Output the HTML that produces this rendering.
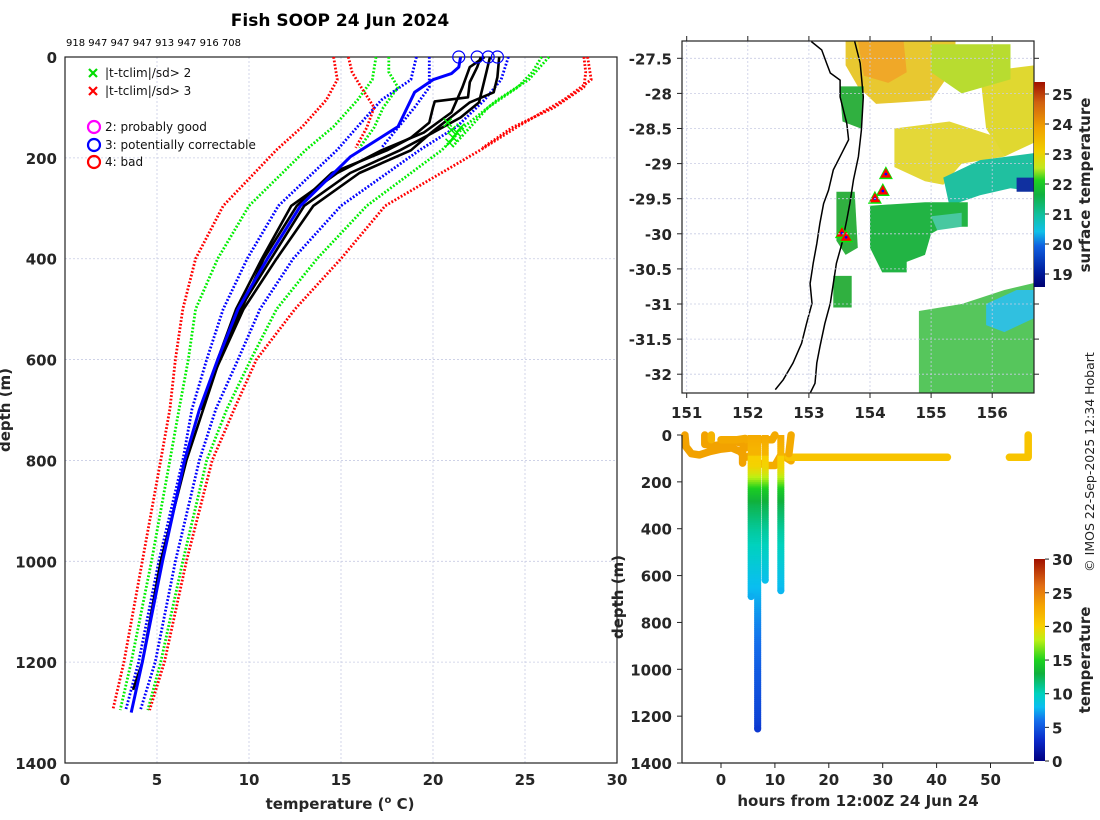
<!DOCTYPE html>
<html><head><meta charset="utf-8"><style>
html,body{margin:0;padding:0;background:#fff;}
svg{display:block;font-family:"DejaVu Sans","Liberation Sans",sans-serif;}
.tk{font-weight:bold;font-size:15px;fill:#262626;}
.lg{font-size:12px;fill:#111;}
</style></head><body>
<svg id="fig" width="1100" height="820" viewBox="0 0 1100 820" xmlns="http://www.w3.org/2000/svg">
<g id="left"></g>
<g id="map"></g>
<g id="bot"></g>
<text x="340" y="26" text-anchor="middle" style="font-weight:bold;font-size:17px">Fish SOOP 24 Jun 2024</text>
<text x="66" y="46" style="font-size:10px">918 947 947 947 913 947 916 708</text>
<text transform="translate(1094,462) rotate(-90)" text-anchor="middle" style="font-size:12.5px;fill:#222">© IMOS 22-Sep-2025 12:34 Hobart</text>
</svg>
<script>
// ---------- profile plot data ----------
const tempTicks=[0,5,10,15,20,25,30];
const depthTicks=[0,200,400,600,800,1000,1200,1400];
const climDepths=[0,45,85,138,184,295,400,500,600,698,800,1000,1200,1295];
const redLeft=[14.6,14.8,14.2,12.9,11.5,8.6,7.1,6.4,6.0,5.7,5.2,4.2,3.2,2.6];
const greenLeft=[16.9,16.7,15.9,14.6,13.1,10.0,8.3,7.1,6.7,6.2,5.7,4.7,3.6,3.0];
const blueLeft=[19.1,18.8,17.2,15.9,14.8,11.6,9.9,8.6,7.7,6.9,6.4,5.1,4.0,3.3];
const blueRight=[24.1,23.7,22.8,21.3,19.3,15.0,12.4,10.6,9.4,8.2,7.3,6.0,4.9,4.1];
const greenRight=[26.3,25.2,23.5,21.7,20.5,16.4,13.7,11.5,10.1,8.8,7.7,6.4,5.2,4.5];
const redRight=[28.4,28.6,27.1,24.6,22.6,17.4,15.0,12.5,10.4,9.2,8.0,6.6,5.4,4.6];
const shallowDepths=[0,30,60,100,140,180];
const redLeft2=[15.4,15.6,16.1,16.8,16.4,15.8];
const greenLeft2=[17.6,17.6,18.1,17.3,16.8,16.0];
const blueLeft2=[19.8,19.8,19.8,19.0,18.1,17.2];
const greenRight2=[25.9,25.4,24.6,23.0,22.0,21.0];
const redRight2=[28.2,28.3,28.2,26.6,24.3,22.7];
const blueProfileDepth=[0,20,33,45,70,138,198,295,400,500,600,700,800,1000,1200,1300];
const blueProfileTemp=[21.5,21.4,21.0,20.0,19.0,18.1,15.5,12.8,11.0,9.4,8.3,7.3,6.5,5.3,4.2,3.6];
const blackDepth1=[0,20,50,80,88,100,130,160,185,230,295,400,500,600,700,800,1000,1200,1255];
const blackTemp1=[22.6,22.4,22.0,21.9,20.1,20.0,19.8,18.8,17.5,14.5,12.6,10.8,9.6,8.4,7.5,6.6,5.2,4.2,3.7];
const blackDepth2=[0,30,60,90,120,150,185,230,295,400,500,600,700];
const blackTemp2=[23.1,22.9,22.7,22.5,21.5,20.0,18.2,15.5,13.0,11.2,9.5,8.3,7.4];
const blackDepth3=[0,40,70,90,110,150,185,230,295,400,500,620];
const blackTemp3=[23.6,23.5,23.3,22.0,21.3,19.9,18.8,16.0,13.5,11.5,9.7,8.2];
const blackDepth4=[0,20,60,110,150,185,230,295,400,500,600,680];
const blackTemp4=[22.8,22.0,21.6,21.0,19.5,17.2,14.8,12.3,10.7,9.3,8.3,7.6];
const surfaceCircleTemps=[21.4,22.4,23.0,23.5];
const flagTemps=[20.8,21.0,21.3,21.1,21.5,20.9];
const flagDepths=[130,145,150,160,140,170];

const NS="http://www.w3.org/2000/svg";
function mk(parent,tag,attrs){const e=document.createElementNS(NS,tag);for(const k in attrs)e.setAttribute(k,attrs[k]);parent.appendChild(e);return e;}
function txt(parent,x,y,s,cls,anchor){const t=mk(parent,'text',{x:x,y:y,'class':cls,'text-anchor':anchor||'middle'});t.textContent=s;return t;}

const L=document.getElementById('left');
const xT=t=>65+t*18.4, yD=d=>57+d*0.5043;
tempTicks.forEach(t=>{const g=mk(L,'line',{x1:xT(t),x2:xT(t),y1:57,y2:763,stroke:'#c8cce4','stroke-width':0.8,'stroke-dasharray':'2 2'});


const l=txt(L,xT(t),785,String(t),'tk');

});
depthTicks.forEach(d=>{const g=mk(L,'line',{x1:65,x2:617,y1:yD(d),y2:yD(d),stroke:'#c8cce4','stroke-width':0.8,'stroke-dasharray':'2 2'});


const l=txt(L,57,yD(d)+6,String(d),'tk','end');

});
const fr=mk(L,'rect',{x:65,y:57,width:552,height:706,fill:'none',stroke:'#222','stroke-width':1.2});


function poly(parent,ds,ts,color,w,dash,name){
  const pts=ds.map((d,i)=>xT(ts[i]).toFixed(1)+','+yD(d).toFixed(1)).join(' ');
  const p=mk(parent,'polyline',{points:pts,fill:'none',stroke:color,'stroke-width':w,'stroke-linejoin':'round'});
  if(dash)p.setAttribute('stroke-dasharray',dash);
  
  
  return p;}
poly(L,climDepths,redLeft,'#ff0000',2.8,'1.8 1.8','clim-minus-3sd');
poly(L,climDepths,greenLeft,'#00ee00',2.8,'1.8 1.8','clim-minus-2sd');
poly(L,climDepths,blueLeft,'#0000ff',2.8,'1.8 1.8','clim-minus-1sd');
poly(L,climDepths,blueRight,'#0000ff',2.8,'1.8 1.8','clim-plus-1sd');
poly(L,climDepths,greenRight,'#00ee00',2.8,'1.8 1.8','clim-plus-2sd');
poly(L,climDepths,redRight,'#ff0000',2.8,'1.8 1.8','clim-plus-3sd');
poly(L,shallowDepths,redLeft2,'#ff0000',2.8,'1.8 1.8','clim2-minus-3sd');
poly(L,shallowDepths,greenLeft2,'#00ee00',2.8,'1.8 1.8','clim2-minus-2sd');
poly(L,shallowDepths,blueLeft2,'#0000ff',2.8,'1.8 1.8','clim2-minus-1sd');
poly(L,shallowDepths,greenRight2,'#00ee00',2.8,'1.8 1.8','clim2-plus-2sd');
poly(L,shallowDepths,redRight2,'#ff0000',2.8,'1.8 1.8','clim2-plus-3sd');
poly(L,blackDepth1,blackTemp1,'#000',2.6,null,'profile-1');
poly(L,blackDepth2,blackTemp2,'#000',2.6,null,'profile-2');
poly(L,blackDepth3,blackTemp3,'#000',2.6,null,'profile-3');
poly(L,blackDepth4,blackTemp4,'#000',2.6,null,'profile-4');
poly(L,blueProfileDepth,blueProfileTemp,'#0000ff',3,null,'profile-flagged-3');
surfaceCircleTemps.forEach(t=>{const c=mk(L,'circle',{cx:xT(t),cy:57,r:6,fill:'none',stroke:'#0000ff','stroke-width':1.2});

});
flagTemps.forEach((t,i)=>{const x=xT(t),y=yD(flagDepths[i]);const p=mk(L,'path',{d:`M${x-4},${y-4}L${x+4},${y+4}M${x-4},${y+4}L${x+4},${y-4}`,stroke:'#00ee00','stroke-width':1.5});

});
const LG=mk(L,'g',{});


[['#00dd00','|t-tclim|/sd> 2',73],['#ff0000','|t-tclim|/sd> 3',91]].forEach(e=>{const y=e[2];
const p=mk(LG,'path',{d:`M89,${y-4}L97,${y+4}M89,${y+4}L97,${y-4}`,stroke:e[0],'stroke-width':2.2});


const t=txt(LG,105,y+4,e[1],'lg','start');

});
[['#ff00ff','2: probably good',127],['#0000ff','3: potentially correctable',145],['#ff0000','4: bad',162]].forEach(e=>{const y=e[2];
const c=mk(LG,'circle',{cx:94,cy:y,r:6,fill:'none',stroke:e[0],'stroke-width':2.2});


const t=txt(LG,105,y+4,e[1],'lg','start');

});
let xl=mk(L,'text',{x:340,y:809,'text-anchor':'middle','class':'tk'});
xl.innerHTML='temperature (<tspan dy="-6" font-size="10">o</tspan><tspan dy="6"> C)</tspan>';


let yl=mk(L,'text',{transform:'translate(10,410) rotate(-90)','text-anchor':'middle','class':'tk'});
yl.textContent='depth (m)';



// ---------- map ----------
const lonTicks=[151,152,153,154,155,156];
const latTicks=[-27.5,-28,-28.5,-29,-29.5,-30,-30.5,-31,-31.5,-32];
const sstTicks=[19,20,21,22,23,24,25];
const sstBlobColors=['#e8c830','#f0a828','#e0d830','#e4d838','#b8dc30','#20c0a0','#1030a0','#22b444','#30b040','#30b040','#38bc40','#30c0e0','#30b040','#48c8a0'];
const sstBlobs=[
[[153.6,-27.25],[155.4,-27.25],[155.4,-27.6],[155.0,-28.1],[154.1,-28.15],[153.8,-27.9],[153.6,-27.6]],
[[153.8,-27.25],[154.55,-27.25],[154.6,-27.7],[154.3,-27.85],[153.9,-27.75]],
[[155.8,-27.7],[156.69,-27.6],[156.69,-28.7],[156.2,-28.9],[155.9,-28.5]],
[[154.4,-28.5],[155.3,-28.4],[156.0,-28.6],[156.2,-28.9],[155.5,-29.0],[155.2,-29.3],[154.9,-29.25],[154.4,-29.05]],
[[155.0,-27.3],[156.3,-27.3],[156.3,-27.8],[155.5,-28.0],[155.0,-27.7]],
[[155.2,-29.2],[155.8,-28.95],[156.69,-28.85],[156.69,-29.4],[156.3,-29.35],[155.8,-29.45],[155.3,-29.6]],
[[156.4,-29.2],[156.69,-29.2],[156.69,-29.4],[156.4,-29.4]],
[[154.0,-29.6],[154.9,-29.55],[155.6,-29.55],[155.6,-29.9],[155.2,-29.9],[155.0,-30.0],[154.9,-30.3],[154.6,-30.4],[154.6,-30.55],[154.2,-30.55],[154.0,-30.2]],
[[153.45,-29.4],[153.75,-29.4],[153.8,-30.2],[153.6,-30.3],[153.45,-30.1]],
[[153.4,-30.6],[153.7,-30.6],[153.7,-31.05],[153.4,-31.05]],
[[154.8,-31.1],[155.5,-31.0],[156.2,-30.8],[156.69,-30.7],[156.69,-32.26],[154.8,-32.26]],
[[155.9,-31.0],[156.4,-30.8],[156.69,-30.8],[156.69,-31.2],[156.2,-31.4],[155.9,-31.3]],
[[153.5,-27.9],[153.9,-27.9],[153.85,-28.5],[153.55,-28.4]],
[[155.0,-29.75],[155.5,-29.7],[155.5,-29.9],[155.1,-29.95]]];
const coastLon=[153.04,153.21,153.29,153.35,153.51,153.51,153.62,153.65,153.51,153.4,153.32,153.24,153.18,153.13,153.07,153.02,153.05,152.96,152.88,152.74,152.58,152.45];
const coastLat=[-27.26,-27.38,-27.57,-27.71,-27.81,-28.05,-28.43,-28.66,-28.9,-29.09,-29.38,-29.57,-29.85,-30.14,-30.42,-30.71,-30.99,-31.28,-31.56,-31.84,-32.08,-32.22];
const shelfLon=[153.75,153.84,153.89,153.86,153.81,153.73,153.67,153.62,153.54,153.45,153.4,153.35,153.26,153.18,153.13,153.1,153.02];
const shelfLat=[-27.26,-27.57,-28.05,-28.52,-28.9,-29.23,-29.57,-29.8,-30.14,-30.42,-30.71,-30.99,-31.28,-31.61,-31.84,-32.13,-32.27];
const dropLon=[154.26,154.21,154.08,153.54,153.61];
const dropLat=[-29.15,-29.39,-29.5,-29.99,-30.05];

const M=document.getElementById('map');
const xL=lon=>686.7+(lon-151)*61.1, yL=lat=>58.3+(-27.5-lat)*70.2;
const clip=mk(M,'clipPath',{id:'mclip'});mk(clip,'rect',{x:682,y:41,width:352,height:352});
const MB=mk(M,'g',{'clip-path':'url(#mclip)'});
sstBlobs.forEach((b,i)=>{const p=mk(MB,'polygon',{points:b.map(q=>xL(q[0]).toFixed(1)+','+yL(q[1]).toFixed(1)).join(' '),fill:sstBlobColors[i],opacity:i==10?0.85:1});

});
lonTicks.forEach(l=>{const g=mk(M,'line',{x1:xL(l),x2:xL(l),y1:41,y2:393,stroke:'#c8cce4','stroke-width':0.8,'stroke-dasharray':'2 2'});


mk(M,'line',{x1:xL(l),x2:xL(l),y1:393,y2:398,stroke:'#222'});mk(M,'line',{x1:xL(l),x2:xL(l),y1:41,y2:36,stroke:'#222'});
const t=txt(M,xL(l),418,String(l),'tk');

});
latTicks.forEach(l=>{const g=mk(M,'line',{x1:682,x2:1034,y1:yL(l),y2:yL(l),stroke:'#c8cce4','stroke-width':0.8,'stroke-dasharray':'2 2'});


mk(M,'line',{x1:677,x2:682,y1:yL(l),y2:yL(l),stroke:'#222'});mk(M,'line',{x1:1034,x2:1039,y1:yL(l),y2:yL(l),stroke:'#222'});
const t=txt(M,672,yL(l)+6,String(l),'tk','end');

});
const cl=mk(MB,'polyline',{points:coastLon.map((v,i)=>xL(v).toFixed(1)+','+yL(coastLat[i]).toFixed(1)).join(' '),fill:'none',stroke:'#000','stroke-width':1.5});


const sl=mk(MB,'polyline',{points:shelfLon.map((v,i)=>xL(v).toFixed(1)+','+yL(shelfLat[i]).toFixed(1)).join(' '),fill:'none',stroke:'#000','stroke-width':1.5});


dropLon.forEach((v,i)=>{const x=xL(v),y=yL(dropLat[i]);
const g=mk(MB,'polygon',{points:`${x},${y-8} ${x+7},${y+5} ${x-7},${y+5}`,fill:'#00ee00'});


const t=mk(MB,'polygon',{points:`${x},${y-6} ${x+5.5},${y+3.5} ${x-5.5},${y+3.5}`,fill:'#ff0000'});


mk(MB,'circle',{cx:x,cy:y,r:1.3,fill:'#0000ff'});});
const mf=mk(M,'rect',{x:682,y:41,width:352,height:352,fill:'none',stroke:'#222','stroke-width':1.2});


const defs=mk(document.getElementById('fig'),'defs',{});
const g1=mk(defs,'linearGradient',{id:'sstg',x1:0,y1:1,x2:0,y2:0});
[[0,'#000070'],[0.08,'#0020a0'],[0.2,'#1060e0'],[0.27,'#10c0e8'],[0.35,'#10c0a0'],[0.45,'#10b040'],[0.52,'#20d020'],[0.58,'#c0e820'],[0.66,'#f0d000'],[0.78,'#f0a000'],[0.9,'#d06010'],[1,'#a01000']].forEach(s=>mk(g1,'stop',{offset:s[0],'stop-color':s[1]}));
const cb1=mk(M,'rect',{x:1034,y:82,width:11,height:205,fill:'url(#sstg)'});


sstTicks.forEach(v=>{const y=94+(25-v)*30;mk(M,'line',{x1:1045,x2:1049,y1:y,y2:y,stroke:'#222'});
const t=txt(M,1052,y+6,String(v),'tk','start');

});
const st=mk(M,'text',{transform:'translate(1090,185) rotate(-90)','text-anchor':'middle','class':'tk'});
st.textContent='surface temperature';



// ---------- depth-time plot ----------
const hourTicks=[0,10,20,30,40,50];
const bDepthTicks=[0,200,400,600,800,1000,1200,1400];
const tempBarTicks=[0,5,10,15,20,25,30];
const dropHours=[5.6,6.8,8.2,11.1];
const dropMaxDepth=[690,1255,620,665];
const trackA=[[-6.7,0],[-6.5,50],[-5.5,80],[-4,85],[-2,70],[0,60],[2,55],[3.5,70],[4.5,95],[5.5,90]];
const trackB=[[-3,0],[-3,40],[-1,45],[1,35],[3,30],[4.5,40]];
const trackC=[[-1.8,0],[-1.8,20]];
const trackD=[[0,20],[3,20],[4.5,15],[5,25],[6,20],[9.5,20],[10,0]];
const trackE=[[4,120],[4,60],[5,50],[6,55]];
const trackF=[[7,120],[8.5,130],[10,130],[11,90],[12,95],[13,110]];
const trackG=[[12.5,95],[42,95]];
const trackH=[[53.5,95],[57,95],[57,0]];
const trackI=[[13,0],[12.6,80]];
const B=document.getElementById('bot');
const xH=h=>721+h*5.39, yB=d=>435+d*0.2343;
function jet(t){const st=[[0,[0,0,128]],[3,[10,40,200]],[6,[20,110,235]],[8,[10,190,240]],[10,[0,210,190]],[13,[16,176,60]],[15,[30,210,30]],[18,[190,240,20]],[20,[248,208,0]],[23,[245,165,0]],[26,[225,110,20]],[30,[160,16,0]]];
t=Math.max(0,Math.min(30,t));for(let i=1;i<st.length;i++){if(t<=st[i][0]){const a=st[i-1],b=st[i],f=(t-a[0])/(b[0]-a[0]);return 'rgb('+a[1].map((v,k)=>Math.round(v+(b[1][k]-v)*f)).join(',')+')';}}return 'rgb(160,16,0)';}
function interp(d){for(let i=1;i<blackDepth1.length;i++){if(d<=blackDepth1[i]){const f=(d-blackDepth1[i-1])/(blackDepth1[i]-blackDepth1[i-1]);return blackTemp1[i-1]+f*(blackTemp1[i]-blackTemp1[i-1]);}}return blackTemp1[blackTemp1.length-1];}
bDepthTicks.forEach(d=>{mk(B,'line',{x1:677,x2:682,y1:yB(d),y2:yB(d),stroke:'#222'});
const t=txt(B,672,yB(d)+6,String(d),'tk','end');

});
hourTicks.forEach(h=>{mk(B,'line',{x1:xH(h),x2:xH(h),y1:763,y2:768,stroke:'#222'});
const t=txt(B,xH(h),785,String(h),'tk');

});
[[trackA,'#f2a200'],[trackB,'#f2a200'],[trackC,'#f6b400'],[trackD,'#f4aa00'],[trackE,'#f2a200'],[trackF,'#f4ac00'],[trackG,'#f8c400'],[trackH,'#f8c400'],[trackI,'#f4aa00']].forEach(tr=>{
const p=mk(B,'polyline',{points:tr[0].map(q=>xH(q[0]).toFixed(1)+','+yB(q[1]).toFixed(1)).join(' '),fill:'none',stroke:tr[1],'stroke-width':7.5,'stroke-linecap':'round','stroke-linejoin':'round'});

});
dropHours.forEach((h,i)=>{const g=mk(B,'g',{});


for(let d=0;d<dropMaxDepth[i];d+=8){const d2=Math.min(d+8,dropMaxDepth[i]);
mk(g,'line',{x1:xH(h),x2:xH(h),y1:yB(d),y2:yB(d2)+0.5,stroke:jet(interp(d)),'stroke-width':7});}
mk(g,'circle',{cx:xH(h),cy:yB(dropMaxDepth[i]),r:3.5,fill:jet(interp(dropMaxDepth[i]))});});
mk(B,'line',{x1:682,x2:682,y1:435,y2:763,stroke:'#222','stroke-width':1.2});
mk(B,'line',{x1:682,x2:1034,y1:763,y2:763,stroke:'#222','stroke-width':1.2});
const g2=mk(defs,'linearGradient',{id:'tg',x1:0,y1:1,x2:0,y2:0});
for(let v=0;v<=30;v+=1)mk(g2,'stop',{offset:v/30,'stop-color':jet(v)});
const cb2=mk(B,'rect',{x:1034,y:559,width:11,height:202,fill:'url(#tg)'});


tempBarTicks.forEach(v=>{const y=761-v*6.73;mk(B,'line',{x1:1045,x2:1049,y1:y,y2:y,stroke:'#222'});
const t=txt(B,1052,y+6,String(v),'tk','start');

});
const ct=mk(B,'text',{transform:'translate(1090,660) rotate(-90)','text-anchor':'middle','class':'tk'});
ct.textContent='temperature';


const bx=txt(B,858,806,'hours from 12:00Z 24 Jun 24','tk');


const by=mk(B,'text',{transform:'translate(623,597) rotate(-90)','text-anchor':'middle','class':'tk'});
by.textContent='depth (m)';


</script>
</body></html>
